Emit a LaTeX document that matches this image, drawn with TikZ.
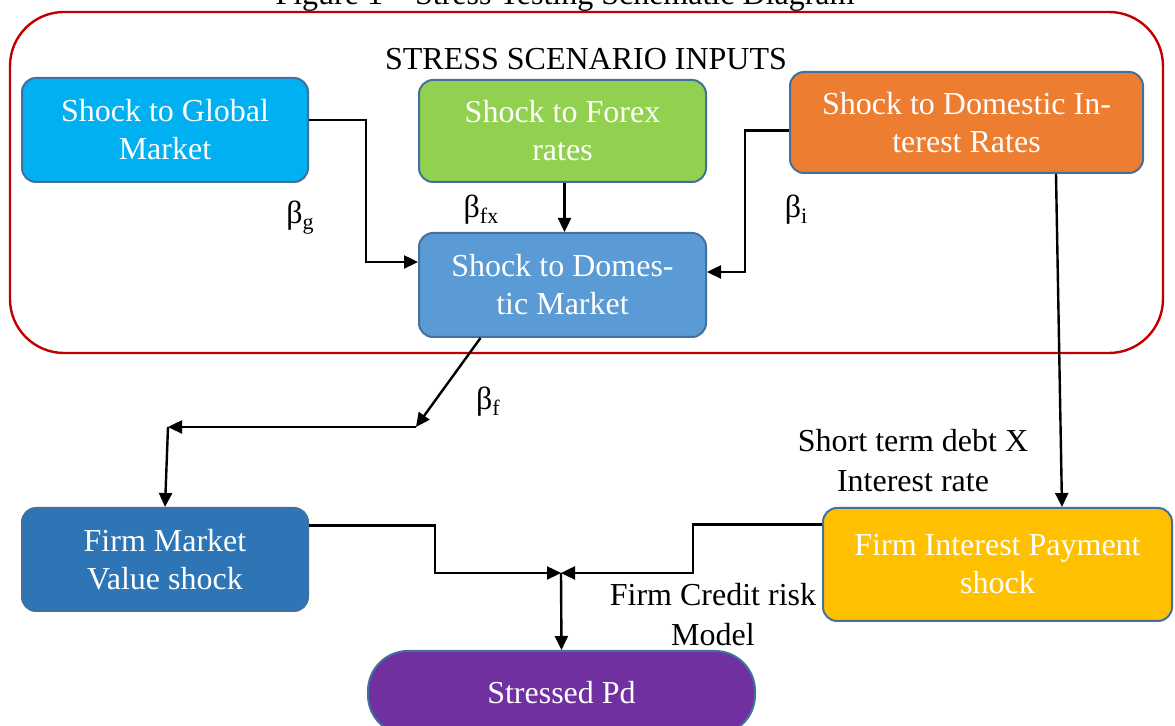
\documentclass[tikz,border=0pt]{standalone}
\usepackage{fontspec}
\setmainfont{Liberation Serif}
\usetikzlibrary{positioning}
\usetikzlibrary{arrows.meta}
\definecolor{edgeblue}{HTML}{41719C}
\definecolor{scnred}{HTML}{C00000}
\definecolor{gmcol}{HTML}{00B0F0}
\definecolor{fxcol}{HTML}{92D050}
\definecolor{ircol}{HTML}{ED7D31}
\definecolor{dmcol}{HTML}{5B9BD5}
\definecolor{fmvcol}{HTML}{2E75B6}
\definecolor{fipcol}{HTML}{FFC000}
\definecolor{pdcol}{HTML}{7030A0}
\newcommand{\bsub}[1]{β\raisebox{-3pt}{\fontsize{11}{11}\selectfont #1}}
\tikzset{
  shock/.style={draw=edgeblue, line width=1pt, rounded corners=7pt, text=white, align=center, font=\fontsize{16}{19}\selectfont, inner sep=2pt},
  arr/.style={-{Triangle[length=7pt,width=6.5pt]}, line width=1.2pt},
  lbl/.style={align=center, font=\fontsize{16}{20}\selectfont, inner sep=1pt},
}
\begin{document}
\begin{tikzpicture}[x=0.5pt,y=-0.5pt]
		\useasboundingbox (0,0) rectangle (1175,726);
		\draw[scnred, line width=1.2pt, rounded corners=27pt] (10,12) rectangle (1163,353);
		\node (ttl) [lbl, anchor=base] at (565,5) {Figure 1 – Stress Testing Schematic Diagram};
		\node (hdr) [lbl, anchor=base] at (586,70) {STRESS SCENARIO INPUTS};
		\node (gm) [shock, fill=gmcol, minimum width=143pt, minimum height=52pt] at (165,130) {Shock to Global\\Market};
		\node (fx) [shock, fill=fxcol, minimum width=143.5pt, minimum height=51pt] at (562.5,131) {Shock to Forex\\rates};
		\node (ir) [shock, fill=ircol, minimum width=176.5pt, minimum height=50.5pt] at (966.5,122.5) {Shock to Domestic In-\\terest Rates};
		\node (dm) [shock, fill=dmcol, minimum width=143.5pt, minimum height=52pt] at (562.5,285) {Shock to Domes-\\tic Market};
		\node (fmv) [shock, fill=fmvcol, minimum width=143pt, minimum height=51.5pt] at (165,559.5) {Firm Market\\Value shock};
		\node (fip) [shock, fill=fipcol, minimum width=174.5pt, minimum height=56.5pt] at (997.5,564.5) {Firm Interest Payment\\shock};
		\node (pd) [shock, fill=pdcol, rounded corners=20pt, minimum width=193.5pt, minimum height=42pt] at (561.5,693) {Stressed Pd};
		\node (lbg) [lbl] at (300,218) {\bsub{g}};
		\node (lbfx) [lbl] at (481,210) {\bsub{fx}};
		\node (lbi) [lbl] at (796,210) {\bsub{i}};
		\node (lbf) [lbl] at (488,402) {\bsub{f}};
		\node (lsd) [lbl] at (913,461) {Short term debt X\\Interest rate};
		\node (lcr) [lbl] at (713,615) {Firm Credit risk\\Model};
		\coordinate (j1) at (416,427);
		\coordinate (j2) at (168,427);
		\coordinate (j3) at (561,573);
		\draw[arr] ([yshift=5pt]gm.east) -| (366,262) -- ([yshift=11.5pt]dm.west);
		\draw[arr] ([xshift=1pt]fx.south) -- ([xshift=1pt]dm.north);
		\draw[arr] ([yshift=-4pt]ir.west) -| (745,272) -- ([yshift=6.5pt]dm.east);
		\draw[arr] ([xshift=-41pt]dm.south) -- (j1);
		\draw[arr] (j1) -- (j2);
		\draw[arr] (j2) -- (fmv.north);
		\draw[arr] ([xshift=44.75pt]ir.south) -- ([xshift=32.25pt]fip.north);
		\draw[arr] ([yshift=17pt]fmv.east) -| (435,573) -- (j3);
		\draw[arr] ([yshift=20pt]fip.west) -| (693,573) -- (j3);
		\draw[arr] (j3) -- (pd.north);
\end{tikzpicture}
\end{document}
